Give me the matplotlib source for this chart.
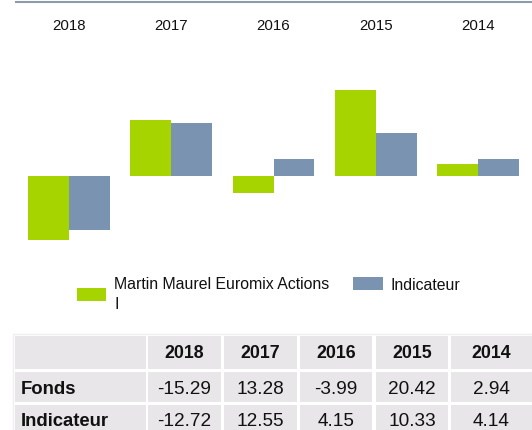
import numpy as np
import matplotlib
matplotlib.use('Agg')
import matplotlib.pyplot as plt
from matplotlib.patches import Rectangle

plt.rcParams['font.family'] = ['Liberation Sans', 'DejaVu Sans']

# data
years = ['2018', '2017', '2016', '2015', '2014']
fonds = [-15.29, 13.28, -3.99, 20.42, 2.94]
indicateur = [-12.72, 12.55, 4.15, 10.33, 4.14]
row_labels = ['Fonds', 'Indicateur']
fund_name = 'Martin Maurel Euromix Actions\nI'
bench_name = 'Indicateur'

green = '#a6d400'
blue = '#7a93b0'
cell = '#e8e6e8'
W, H = 532, 430

fig = plt.figure(figsize=(W / 100, H / 100), dpi=100)

# overlay in pixel coordinates for decorations
deco = fig.add_axes([0, 0, 1, 1])
deco.set_xlim(0, W)
deco.set_ylim(H, 0)
deco.axis('off')

# bars
ax = fig.add_axes([0, 1 - 260 / H, 1, 220 / H])
x = np.arange(len(years))
w = 0.4
ax.bar(x - w / 2, fonds, w, color=green, linewidth=0)
ax.bar(x + w / 2, indicateur, w, color=blue, linewidth=0)
px_unit = 102.25
ax.set_xlim(-69 / px_unit, (W - 69) / px_unit)
ax.set_ylim(-(260 - 176) / 4.21, (176 - 40) / 4.21)
ax.axis('off')

# top rule and year labels
deco.plot([16, W], [2, 2], color='#8d9bb0', lw=1.5)
for i, yr in enumerate(years):
    xp = ax.transData.transform((i, 0))[0]
    deco.text(xp * 100 / fig.dpi, 26, yr, ha='center', va='center', fontsize=10.8, color='#111111')

# legend
deco.add_patch(Rectangle((77, 288), 29, 13, color=green, lw=0))
deco.text(114, 294.5, fund_name, ha='left', va='center', fontsize=11.4, color='#111111', linespacing=1.4)
deco.add_patch(Rectangle((353, 277), 30, 13, color=blue, lw=0))
deco.text(390, 285.5, bench_name, ha='left', va='center', fontsize=11.4, color='#111111')

# table
col_edges = [(15, 146), (148, 221), (224, 297), (300, 372), (376, 448), (451, 532)]
row_edges = [(336, 369), (372, 402), (405, 440)]
deco.add_patch(Rectangle((13, 334), W - 13, 110, facecolor='none', edgecolor='#f0eff0', lw=1))
for (r0, r1) in row_edges:
    for (c0, c1) in col_edges:
        deco.add_patch(Rectangle((c0, r0), c1 - c0, r1 - r0, color=cell, lw=0))

ty = [353.5, 389.5, 421.5]
for j, yr in enumerate(years):
    c0, c1 = col_edges[j + 1]
    deco.text((c0 + c1) / 2, ty[0], yr, ha='center', va='center', fontsize=12.8,
              fontweight='bold', color='#111111')
for i, (lab, vals) in enumerate(zip(row_labels, [fonds, indicateur])):
    deco.text(21, ty[i + 1], lab, ha='left', va='center', fontsize=13.3,
              fontweight='bold', color='#111111')
    for j, v in enumerate(vals):
        c0, c1 = col_edges[j + 1]
        deco.text((c0 + c1) / 2, ty[i + 1], f'{v:.2f}', ha='center', va='center',
                  fontsize=13.7, color='#111111')

fig.savefig('out.png', dpi=100)
